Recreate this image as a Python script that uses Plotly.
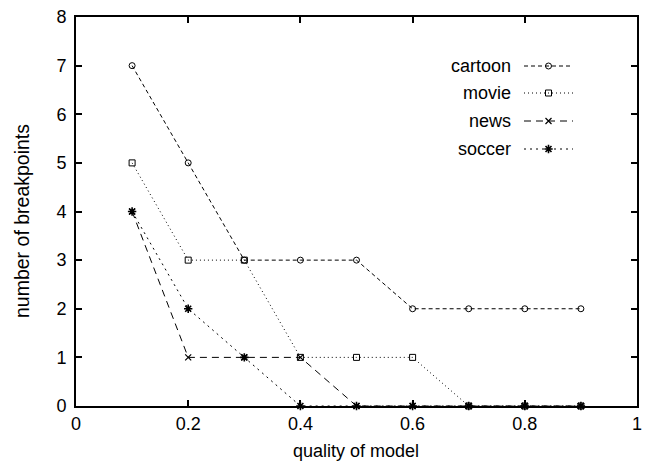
import plotly.graph_objects as go

# Model quality thresholds and breakpoint counts per video genre
quality = [0.1, 0.2, 0.3, 0.4, 0.5, 0.6, 0.7, 0.8, 0.9]
cartoon = [7, 5, 3, 3, 3, 2, 2, 2, 2]
movie = [5, 3, 3, 1, 1, 1, 0, 0, 0]
news = [4, 1, 1, 1, 0, 0, 0, 0, 0]
soccer = [4, 2, 1, 0, 0, 0, 0, 0, 0]

x_ticks = [0, 0.2, 0.4, 0.6, 0.8, 1]
x_labels = ["0", "0.2", "0.4", "0.6", "0.8", "1"]
y_ticks = [0, 1, 2, 3, 4, 5, 6, 7, 8]

# name, values, marker symbol, dash pattern, marker size, marker stroke
series = [
    ("cartoon", cartoon, "circle-open", "4px,3px", 6, 1.0),
    ("movie", movie, "square-open", "1px,3px", 6, 1.0),
    ("news", news, "x-thin-open", "7px,5px", 6, 1.2),
    ("soccer", soccer, "asterisk-open", "2px,4px", 7, 1.6),
]

FONT = "Liberation Sans, Arial, Helvetica, sans-serif"
W, H = 647, 461
ML, MR, MT, MB = 76, 10, 17, 55

fig = go.Figure()

for name, vals, sym, dash, msize, mlw in series:
    fig.add_trace(go.Scatter(
        x=quality, y=vals, mode="lines+markers", name=name,
        line=dict(color="black", width=1, dash=dash),
        marker=dict(symbol=sym, size=msize, color="black",
                    line=dict(color="black", width=mlw)),
        showlegend=False, cliponaxis=False,
    ))

# Key in the upper right: label on the left, line sample with a centred marker
key_rows_px = [66, 93, 121, 149]
text_right_px = 513
sample_px = (524, 573)

def px_to_x(px):
    return (px - ML) / (W - ML - MR)

def px_to_y(py):
    return 1 - (py - MT) / (H - MT - MB)

for (name, vals, sym, dash, msize, mlw), row in zip(series, key_rows_px):
    yk = px_to_y(row)
    x0, x1 = px_to_x(sample_px[0]), px_to_x(sample_px[1])
    fig.add_trace(go.Scatter(
        x=[x0, x1], y=[yk, yk], mode="lines", xaxis="x2", yaxis="y2",
        line=dict(color="black", width=1, dash=dash),
        showlegend=False, hoverinfo="skip",
    ))
    fig.add_trace(go.Scatter(
        x=[(x0 + x1) / 2], y=[yk], mode="markers", xaxis="x2", yaxis="y2",
        marker=dict(symbol=sym, size=msize, color="black",
                    line=dict(color="black", width=mlw)),
        showlegend=False, hoverinfo="skip",
    ))
    fig.add_annotation(
        x=px_to_x(text_right_px), y=yk, xref="paper", yref="paper",
        text=name, showarrow=False, xanchor="right", yanchor="middle",
        font=dict(family=FONT, size=18, color="black"),
    )

# Axis titles
fig.add_annotation(
    x=px_to_x(22), y=px_to_y(221), xref="paper", yref="paper",
    text="number of breakpoints", textangle=-90, showarrow=False,
    xanchor="center", yanchor="middle",
    font=dict(family=FONT, size=19.5, color="black"),
)
fig.add_annotation(
    x=px_to_x(356), y=px_to_y(451), xref="paper", yref="paper",
    text="quality of model", showarrow=False,
    xanchor="center", yanchor="middle",
    font=dict(family=FONT, size=18, color="black"),
)

axis_common = dict(
    showgrid=False, zeroline=False, showline=True, linecolor="black",
    linewidth=2, mirror="ticks", ticks="inside", ticklen=6, tickwidth=2,
    tickcolor="black", tickfont=dict(family=FONT, size=18, color="black"),
    automargin=False,
)

fig.update_layout(
    width=W, height=H,
    margin=dict(l=ML, r=MR, t=MT, b=MB),
    plot_bgcolor="white", paper_bgcolor="white",
    xaxis=dict(range=[0, 1], tickvals=x_ticks, ticktext=x_labels, **axis_common),
    yaxis=dict(range=[0, 8], tickvals=y_ticks, ticklabelstandoff=4,
               **axis_common),
    xaxis2=dict(range=[0, 1], overlaying="x", visible=False, fixedrange=True),
    yaxis2=dict(range=[0, 1], overlaying="y", visible=False, fixedrange=True),
)

fig.write_html("out.html")
